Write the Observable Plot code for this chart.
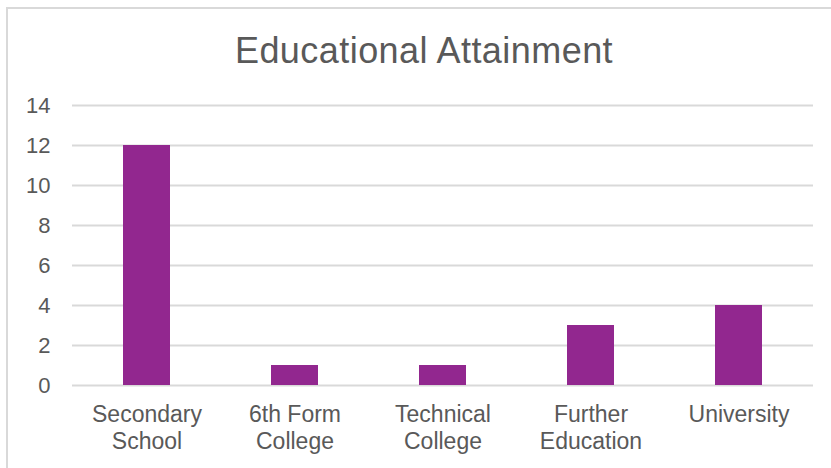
<!DOCTYPE html>
<html>
<head>
<meta charset="utf-8">
<script src="https://cdn.jsdelivr.net/npm/d3@7"></script>
<script src="https://cdn.jsdelivr.net/npm/@observablehq/plot@0.6"></script>
<style>
  html, body { margin: 0; padding: 0; background: #fff; }
  body { width: 831px; height: 468px; position: relative; overflow: hidden; font-family: "Liberation Sans", Arial, sans-serif; }
  #frame { position: absolute; left: 6px; top: 7px; width: 840px; height: 480px; border: 2px solid #d9d9d9; box-sizing: border-box; }
  #title { position: absolute; left: 0; top: 33px; width: 848px; text-align: center; font-size: 36px; line-height: 36px; letter-spacing: 0.45px; color: #595959; }
  #chart { position: absolute; left: 0; top: 0; }
</style>
</head>
<body>
<div id="frame"></div>
<div id="title">Educational Attainment</div>
<div id="chart"></div>
<script>
const categories = ["Secondary School", "6th Form College", "Technical College", "Further Education", "University"];
const tickLabels = ["Secondary\nSchool", "6th Form\nCollege", "Technical\nCollege", "Further\nEducation", "University"];
const values = [12, 1, 1, 3, 4];
const yTicks = [0, 2, 4, 6, 8, 10, 12, 14];

const data = categories.map((c, i) => ({category: c, value: values[i]}));
const labelOf = new Map(categories.map((c, i) => [c, tickLabels[i]]));

const chart = Plot.plot({
  width: 831,
  height: 468,
  marginTop: 105,
  marginBottom: 83,
  marginLeft: 72,
  marginRight: 18,
  style: { fontFamily: "'Liberation Sans', Arial, sans-serif", fontSize: "22px", color: "#595959", background: "transparent" },
  x: { type: "band", domain: categories, paddingInner: 0.685, paddingOuter: 0.3425, align: 0.5 },
  y: { domain: [0, 14] },
  marks: [
    Plot.gridY(yTicks, { stroke: "#d9d9d9", strokeOpacity: 1, strokeWidth: 2 }),
    Plot.barY(data, { x: "category", y: "value", fill: "#92278F" }),
    Plot.axisY(yTicks, { tickSize: 0, tickPadding: 22, fontSize: 22, label: null, fill: "#595959" }),
    Plot.axisX({ tickSize: 0, tickPadding: 17, fontSize: 23, label: null, fill: "#595959", lineHeight: 1.17, tickFormat: d => labelOf.get(d) })
  ]
});
document.getElementById("chart").appendChild(chart);
</script>
</body>
</html>
